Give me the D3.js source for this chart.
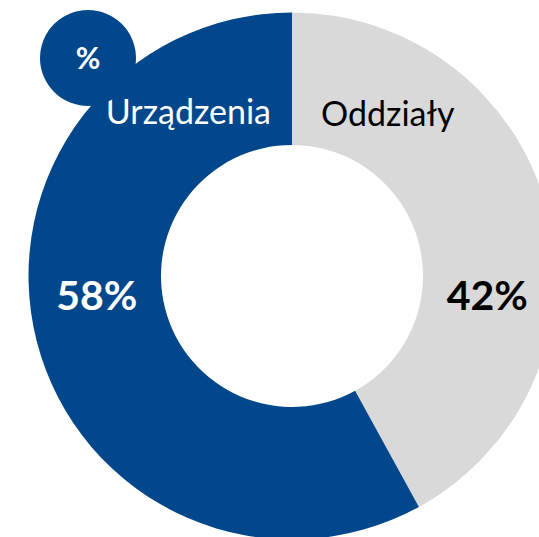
<!DOCTYPE html>
<html>
<head>
<meta charset="utf-8">
<script src="https://cdn.jsdelivr.net/npm/d3@7"></script>
<style>
  body { margin: 0; background: #fff; }
  svg { display: block; }
  text { font-family: Lato, "Open Sans", sans-serif; }
</style>
</head>
<body>
<div id="chart"></div>
<script>
// Data, in clockwise order starting at 12 o'clock
const categories = ['Oddziały', 'Urządzenia'];
const shares = [42, 58];
const colors = ['#d9d9d9', '#02478b'];
const valueColors = ['#000000', '#ffffff'];
const unitLabel = '%';

const width = 539;
const height = 537;
const cx = 292, cy = 276;
const outerR = 263.5;
const innerR = 131;
const labelR = (outerR + innerR) / 2;

const svg = d3.select('#chart').append('svg')
  .attr('width', width)
  .attr('height', height);

const g = svg.append('g').attr('transform', `translate(${cx},${cy})`);

const pie = d3.pie().sort(null).value(d => d.value);
const arcs = pie(categories.map((c, i) => ({ name: c, value: shares[i], i })));

const arc = d3.arc().innerRadius(innerR).outerRadius(outerR);

g.selectAll('path.slice')
  .data(arcs)
  .join('path')
  .attr('class', 'slice')
  .attr('d', arc)
  .attr('fill', d => colors[d.data.i]);

// value labels sit in the ring on the horizontal through the centre
g.selectAll('text.value')
  .data(arcs)
  .join('text')
  .attr('class', 'value')
  .attr('x', d => Math.sign(Math.sin((d.startAngle + d.endAngle) / 2)) * (labelR - 2))
  .attr('y', 34)
  .attr('text-anchor', 'middle')
  .attr('font-size', 41)
  .attr('font-weight', 700)
  .attr('fill', d => valueColors[d.data.i])
  .text(d => `${d.data.value}%`);

// category names just either side of the split at the top
g.selectAll('text.cat')
  .data(arcs)
  .join('text')
  .attr('class', 'cat')
  .attr('x', d => d.startAngle === 0 ? 29 : -21)
  .attr('y', d => d.startAngle === 0 ? -150 : -152)
  .attr('text-anchor', d => d.startAngle === 0 ? 'start' : 'end')
  .attr('font-size', 34)
  .attr('fill', d => d.data.i === 0 ? '#000' : '#fff')
  .text(d => d.data.name);

// "%" badge top left
const badge = svg.append('g').attr('transform', 'translate(88,58)');
badge.append('circle').attr('r', 48).attr('fill', colors[1]);
badge.append('text')
  .attr('y', 11)
  .attr('text-anchor', 'middle')
  .attr('font-size', 30)
  .attr('font-weight', 700)
  .attr('fill', '#fff')
  .text(unitLabel);
</script>
</body>
</html>
